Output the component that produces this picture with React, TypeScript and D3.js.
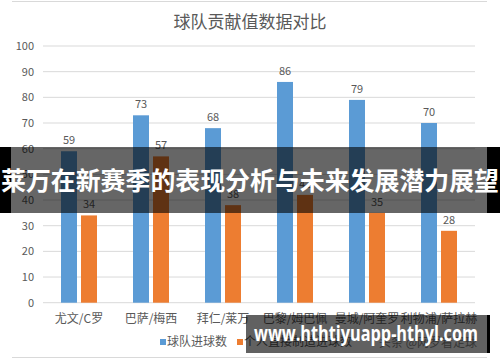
import React from "react";
import * as d3 from "d3";

const categories = ["尤文/C罗", "巴萨/梅西", "拜仁/莱万", "巴黎/姆巴佩", "曼城/阿奎罗", "利物浦/萨拉赫"];
const teamGoals = [59, 73, 68, 86, 79, 70];
const personalGoals = [34, 57, 38, 42, 35, 28];
const seriesNames = ["球队进球数", "个人直接制造进球数"];
const colors = ["#5B9BD5", "#ED7D31"];
const yTicks = [0, 10, 20, 30, 40, 50, 60, 70, 80, 90, 100];
const title = "球队贡献值数据对比";
const bannerText = "莱万在新赛季的表现分析与未来发展潜力展望";
const urlText = "www.hthtiyuapp-hthyl.com";
const sourceText = "头条 @网罗看足球";

const W = 500, H = 362;
const FONT = "'Noto Sans CJK SC', 'Noto Sans', sans-serif";

export default function App() {
  const x0 = d3.scaleBand<string>().domain(categories).range([43, 475]).padding(0);
  const x1 = d3.scaleBand<number>().domain([0, 1]).range([18, 54]).paddingInner(0.2);
  const y = d3.scaleLinear().domain([0, 100]).range([302.7, 46]);
  const series = [teamGoals, personalGoals];

  return (
    <svg width={W} height={H} style={{ position: "absolute", left: 0, top: 0, background: "#fff" }}>
      <rect x={0} y={0} width={W} height={H} fill="#fff" />
      <line x1={12} x2={487} y1={1.5} y2={1.5} stroke="#d9d9d9" />
      <line x1={12} x2={487} y1={357.5} y2={357.5} stroke="#d9d9d9" />
      <text x={250} y={28} textAnchor="middle" fontFamily={FONT} fontSize={17} fill="#595959">{title}</text>
      {yTicks.map((t) => (
        <g key={t}>
          <line x1={43} x2={475} y1={y(t)} y2={y(t)} stroke="#d9d9d9" strokeWidth={1} />
          <text x={34} y={y(t) + 4} textAnchor="end" fontFamily={FONT} fontSize={11} fill="#595959">{t}</text>
        </g>
      ))}
      {categories.map((c, i) => (
        <g key={c} transform={`translate(${x0(c)},0)`}>
          {series.map((s, j) => (
            <g key={j}>
              <rect x={x1(j)} y={y(s[i])} width={x1.bandwidth()} height={y(0) - y(s[i])} fill={colors[j]} />
              <text x={(x1(j) as number) + x1.bandwidth() / 2} y={y(s[i]) - 7} textAnchor="middle" fontFamily={FONT} fontSize={11} fill="#595959">{s[i]}</text>
            </g>
          ))}
          <text x={x0.bandwidth() / 2} y={323} textAnchor="middle" fontFamily={FONT} fontSize={12} fill="#595959">{c}</text>
        </g>
      ))}
      <rect x={160} y={339} width={6} height={6} fill={colors[0]} />
      <text x={167} y={346} fontFamily={FONT} fontSize={12} fill="#595959">{seriesNames[0]}</text>
      <rect x={237} y={339} width={6} height={6} fill={colors[1]} />
      <text x={244} y={346} fontFamily={FONT} fontSize={12} fill="#595959">{seriesNames[1]}</text>
      <text x={477} y={347} textAnchor="end" fontFamily={FONT} fontSize={12} fill="#8c8c8c">{sourceText}</text>

      {/* banner overlay */}
      <rect x={0} y={147} width={11} height={66} fill="#000" />
      <rect x={487} y={147} width={13} height={66} fill="#000" />
      <rect x={11} y={147} width={476} height={66} fill="rgba(0,0,0,0.6)" />
      <text x={250} y={190} textAnchor="middle" fontFamily={FONT} fontWeight="bold" fontSize={25} fill="#fff" textLength={498} lengthAdjust="spacingAndGlyphs">{bannerText}</text>

      {/* url overlay */}
      <rect x={246} y={315} width={241} height={38} fill="rgba(0,0,0,0.62)" />
      <rect x={487} y={315} width={3} height={38} fill="#000" />
      <text x={366} y={341} textAnchor="middle" fontFamily="'Open Sans', 'DejaVu Sans', sans-serif" fontWeight="bold" fontSize={21} fill="#fff" textLength={224} lengthAdjust="spacingAndGlyphs">{urlText}</text>
    </svg>
  );
}
